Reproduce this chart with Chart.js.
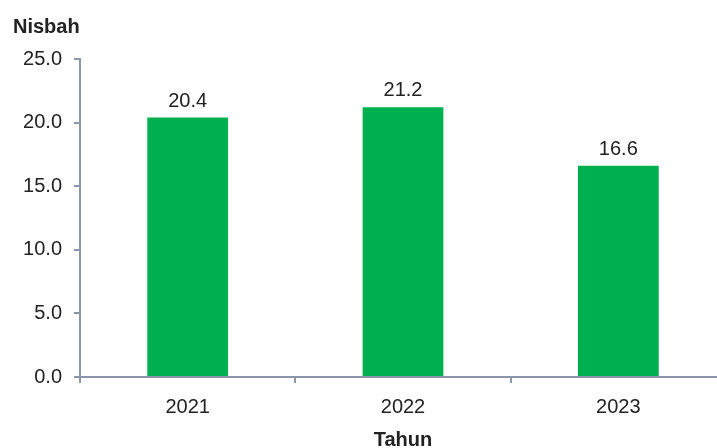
<!DOCTYPE html>
<html lang="en">
  <head>
    <meta charset="UTF-8" />
    <title>Nisbah</title>
    <script src="https://cdn.jsdelivr.net/npm/chart.js"></script>
    <style>
      html, body { margin: 0; padding: 0; overflow: hidden; background: #fff; }
      #wrap { width: 726px; height: 448px; }
    </style>
  </head>
  <body>
    <div id="wrap"><canvas id="ratioChart"></canvas></div>

    <script>
      const years = ["2021", "2022", "2023"];
      const ratios = [20.4, 21.2, 16.6];
      const yTicks = [0, 5, 10, 15, 20, 25];

      const axisColor = "#8c96a8";
      const textColor = "#222";
      const fontFamily = "'Liberation Sans', Arial, sans-serif";

      // value labels above bars + axis titles
      const labelsPlugin = {
        id: "labels",
        afterDatasetsDraw(chart) {
          const ctx = chart.ctx;
          const meta = chart.getDatasetMeta(0);
          ctx.save();
          ctx.fillStyle = textColor;
          ctx.font = "20px " + fontFamily;
          ctx.textAlign = "center";
          ctx.textBaseline = "alphabetic";
          meta.data.forEach((bar, i) => {
            ctx.fillText(ratios[i].toFixed(1), bar.x, bar.y - 11);
          });
          ctx.font = "bold 20px " + fontFamily;
          ctx.textAlign = "left";
          ctx.fillText("Nisbah", 13, 33);
          ctx.textAlign = "center";
          ctx.fillText("Tahun", 403, 446);
          ctx.restore();
        },
      };

      const ctx = document.getElementById("ratioChart").getContext("2d");

      new Chart(ctx, {
        type: "bar",
        data: {
          labels: years,
          datasets: [
            {
              data: ratios,
              backgroundColor: "#00b050",
              barPercentage: 0.375,
              categoryPercentage: 1,
            },
          ],
        },
        options: {
          responsive: true,
          maintainAspectRatio: false,
          animation: false,
          layout: { padding: { top: 59, right: 0, bottom: 0, left: 0 } },
          plugins: {
            legend: { display: false },
            tooltip: { enabled: false },
          },
          scales: {
            x: {
              offset: true,
              grid: {
                offset: true,
                drawOnChartArea: false,
                color: axisColor,
                lineWidth: 2,
                tickLength: 6,
              },
              border: { color: axisColor, width: 2 },
              ticks: {
                color: textColor,
                font: { family: fontFamily, size: 20 },
                padding: 12,
              },
              afterFit(scale) { scale.height = 71; },
            },
            y: {
              min: 0,
              max: 25,
              afterBuildTicks(scale) {
                scale.ticks = yTicks.map((v) => ({ value: v }));
              },
              grid: {
                drawOnChartArea: false,
                color: axisColor,
                lineWidth: 2,
                tickLength: 6,
              },
              border: { color: axisColor, width: 2 },
              ticks: {
                color: textColor,
                font: { family: fontFamily, size: 20 },
                padding: 12,
                callback: (v) => Number(v).toFixed(1),
              },
              afterFit(scale) { scale.width = 80; },
            },
          },
        },
        plugins: [labelsPlugin],
      });
    </script>
  </body>
</html>
